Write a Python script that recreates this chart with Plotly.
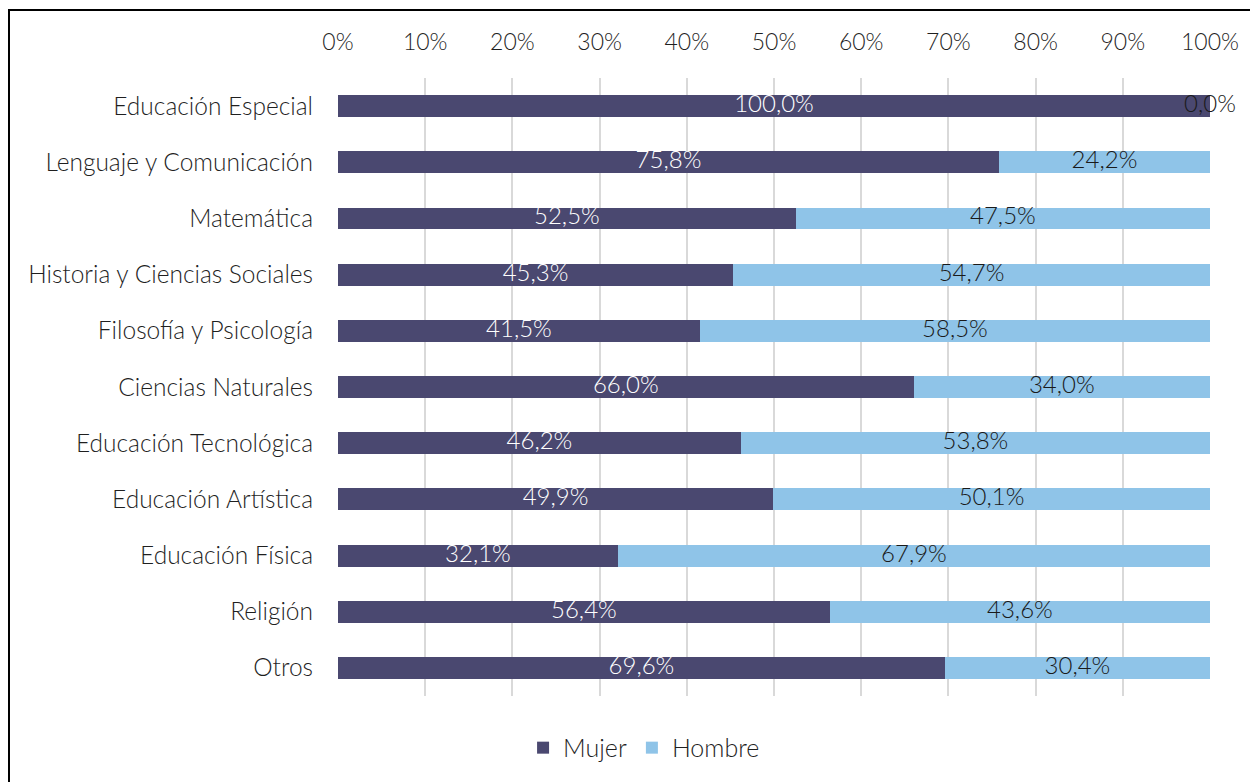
import plotly.graph_objects as go

categorias = [
    "Educación Especial", "Lenguaje y Comunicación", "Matemática",
    "Historia y Ciencias Sociales", "Filosofía y Psicología", "Ciencias Naturales",
    "Educación Tecnológica", "Educación Artística", "Educación Física",
    "Religión", "Otros",
]
mujer = [100.0, 75.8, 52.5, 45.3, 41.5, 66.0, 46.2, 49.9, 32.1, 56.4, 69.6]
hombre = [0.0, 24.2, 47.5, 54.7, 58.5, 34.0, 53.8, 50.1, 67.9, 43.6, 30.4]
ticks_x = [0, 10, 20, 30, 40, 50, 60, 70, 80, 90, 100]

COLOR_MUJER = "#4A4870"
COLOR_HOMBRE = "#8FC4E8"
FONT = "Lato"


def fmt(v):
    return f"{v:.1f}".replace(".", ",") + "%"


fig = go.Figure()
fig.add_trace(go.Bar(
    y=categorias, x=mujer, name="Mujer", orientation="h",
    marker=dict(color=COLOR_MUJER, line=dict(width=0)),
))
fig.add_trace(go.Bar(
    y=categorias, x=hombre, name="Hombre", orientation="h",
    marker=dict(color=COLOR_HOMBRE, line=dict(width=0)),
))

# etiquetas centradas en cada segmento
fig.add_trace(go.Scatter(
    y=categorias, x=[m / 2 for m in mujer], mode="text",
    text=[fmt(v) for v in mujer],
    textfont=dict(color="white", size=24, family=FONT, weight=300),
    showlegend=False, hoverinfo="skip", cliponaxis=False,
))
fig.add_trace(go.Scatter(
    y=categorias, x=[m + h / 2 for m, h in zip(mujer, hombre)], mode="text",
    text=[fmt(v) for v in hombre],
    textfont=dict(color="#1a1a1a", size=24, family=FONT, weight=300),
    showlegend=False, hoverinfo="skip", cliponaxis=False,
))

# marco del gráfico
fig.add_shape(
    type="rect", xref="paper", yref="paper",
    x0=-0.3773, x1=1.2, y0=-0.3, y1=1.110,
    line=dict(color="black", width=2), fillcolor="rgba(0,0,0,0)", layer="above",
)

fig.update_layout(
    width=1250, height=774,
    margin=dict(l=330, r=48, t=70, b=86, autoexpand=False),
    barmode="stack", bargap=0.61,
    paper_bgcolor="white", plot_bgcolor="white",
    font=dict(family=FONT, size=24, color="#1f1f1f", weight=300),
    legend=dict(
        orientation="h", x=0.351, xanchor="center", y=-0.084, yanchor="middle",
        font=dict(size=25, color="#1f1f1f", weight=300), traceorder="normal",
    ),
    xaxis=dict(
        side="top", range=[0, 100], tickmode="array", tickvals=ticks_x,
        ticktext=[f"{t}%" for t in ticks_x],
        showgrid=True, gridcolor="#D9D9D9", gridwidth=1.5, zeroline=False,
        showline=False, ticks="", ticklabelstandoff=22,
        tickfont=dict(size=23, color="#1f1f1f", weight=300),
    ),
    yaxis=dict(
        range=[len(categorias) - 0.5, -0.5], showgrid=False, zeroline=False,
        showline=False, ticks="", ticklabelstandoff=24,
        tickfont=dict(size=24.5, color="#1f1f1f", weight=300),
    ),
)

fig.write_html("out.html")
